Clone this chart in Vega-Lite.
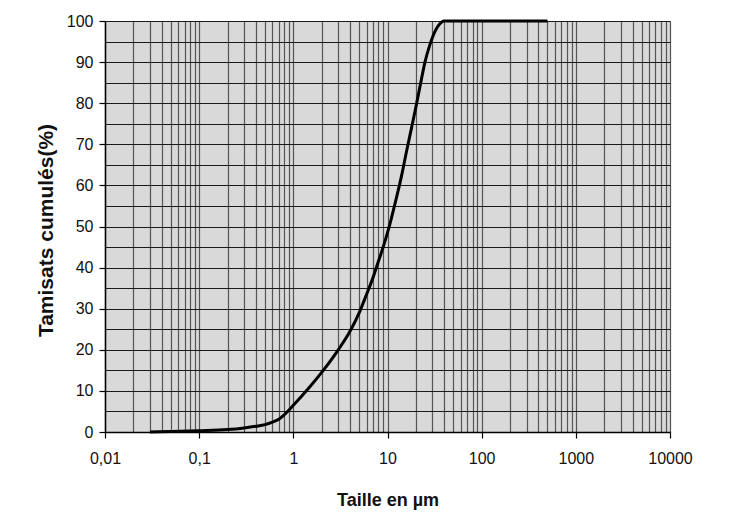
{
  "$schema": "https://vega.github.io/schema/vega-lite/v6.json",
  "width": 565,
  "height": 411,
  "autosize": {"type": "none"},
  "padding": {"left": 105, "top": 21, "right": 83, "bottom": 95},
  "background": "white",
  "config": {
    "view": {"fill": "#d9d9d9", "stroke": "#8a8a8a", "strokeWidth": 1},
    "axis": {
      "labelFont": "Liberation Sans",
      "titleFont": "Liberation Sans",
      "labelColor": "#111",
      "titleColor": "#111",
      "domainColor": "#000",
      "domainWidth": 1.5,
      "tickColor": "#000",
      "tickWidth": 1.2,
      "labelFontSize": 16,
      "labelOverlap": false,
      "labelFlush": false
    }
  },
  "data": {
    "values": [
      {"taille": 0.03, "cumul": 0},
      {"taille": 0.05, "cumul": 0.1},
      {"taille": 0.1, "cumul": 0.3},
      {"taille": 0.2, "cumul": 0.6},
      {"taille": 0.3, "cumul": 1.0},
      {"taille": 0.4, "cumul": 1.4},
      {"taille": 0.5, "cumul": 1.8},
      {"taille": 0.6, "cumul": 2.4},
      {"taille": 0.7, "cumul": 3.1},
      {"taille": 0.8, "cumul": 4.2},
      {"taille": 1.0, "cumul": 6.5},
      {"taille": 1.5, "cumul": 11},
      {"taille": 2, "cumul": 14.5},
      {"taille": 3, "cumul": 20},
      {"taille": 4, "cumul": 24.5},
      {"taille": 5, "cumul": 29},
      {"taille": 6, "cumul": 33.5},
      {"taille": 7, "cumul": 37.5},
      {"taille": 8, "cumul": 41.5},
      {"taille": 9, "cumul": 45},
      {"taille": 10, "cumul": 48.5},
      {"taille": 11, "cumul": 52},
      {"taille": 12, "cumul": 55.5},
      {"taille": 14, "cumul": 62},
      {"taille": 16, "cumul": 68.5},
      {"taille": 18, "cumul": 74},
      {"taille": 20, "cumul": 79},
      {"taille": 23, "cumul": 86},
      {"taille": 25, "cumul": 90},
      {"taille": 28, "cumul": 94},
      {"taille": 30, "cumul": 96},
      {"taille": 35, "cumul": 99},
      {"taille": 40, "cumul": 100},
      {"taille": 50, "cumul": 100},
      {"taille": 100, "cumul": 100},
      {"taille": 200, "cumul": 100},
      {"taille": 500, "cumul": 100}
    ]
  },
  "mark": {"type": "line", "color": "#000", "strokeWidth": 3, "interpolate": "monotone"},
  "encoding": {
    "x": {
      "field": "taille",
      "type": "quantitative",
      "scale": {"type": "log", "domain": [0.01, 10000], "nice": false},
      "axis": {
        "title": "Taille en µm",
        "titleFontSize": 18,
        "titleFontWeight": "bold",
        "titleBaseline": "alphabetic",
        "titleY": 73,
        "values": [0.01,0.02,0.03,0.04,0.05,0.06,0.07,0.08,0.09,0.1,0.2,0.3,0.4,0.5,0.6,0.7,0.8,0.9,1,2,3,4,5,6,7,8,9,10,20,30,40,50,60,70,80,90,100,200,300,400,500,600,700,800,900,1000,2000,3000,4000,5000,6000,7000,8000,9000,10000],
        "labelExpr": "indexof([0.01,0.1,1,10,100,1000,10000], datum.value) >= 0 ? replace(toString(datum.value), '.', ',') : ''",
        "tickSize": 6,
        "tickOpacity": {"condition": {"test": "indexof([0.01,0.1,1,10,100,1000,10000], datum.value) >= 0", "value": 1}, "value": 0},
        "labelPadding": 12,
        "grid": true,
        "gridColor": "#555",
        "gridWidth": 1.2,
        "gridOpacity": 1
      }
    },
    "y": {
      "field": "cumul",
      "type": "quantitative",
      "scale": {"domain": [0, 100], "nice": false},
      "axis": {
        "title": "Tamisats cumulés(%)",
        "titleFontSize": 21,
        "titleFontWeight": "bold",
        "titleAngle": -90,
        "titleX": -59,
        "titleY": 209,
        "titleAlign": "center",
        "titleBaseline": "middle",
        "values": [0,5,10,15,20,25,30,35,40,45,50,55,60,65,70,75,80,85,90,95,100],
        "labelExpr": "datum.value % 10 == 0 ? datum.label : ''",
        "tickSize": 6,
        "tickOpacity": {"condition": {"test": "datum.value % 10 == 0", "value": 1}, "value": 0},
        "labelPadding": 6,
        "grid": true,
        "gridColor": "#1a1a1a",
        "gridWidth": 1.2,
        "gridOpacity": 1
      }
    }
  }
}
